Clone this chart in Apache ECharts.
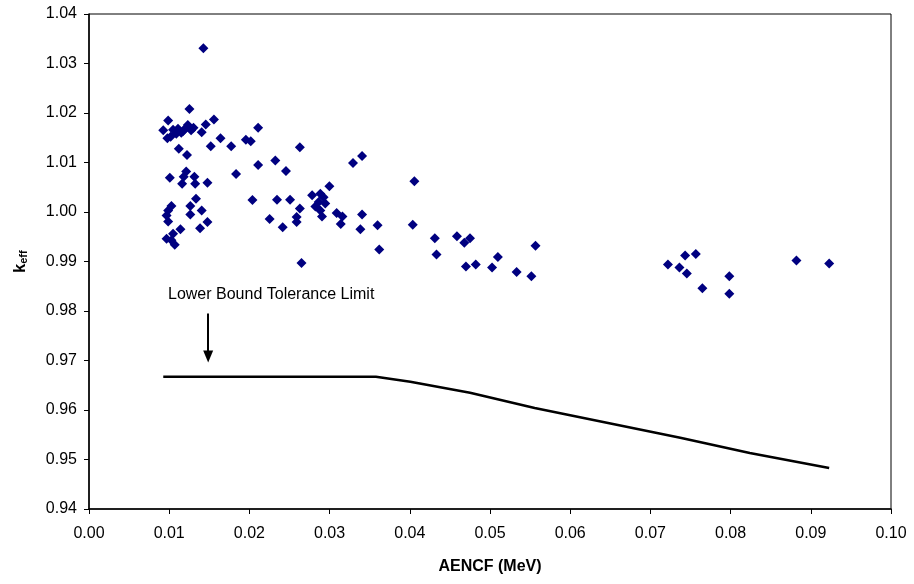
<!DOCTYPE html>
<html>
<head>
<meta charset="utf-8">
<script src="https://cdn.jsdelivr.net/npm/echarts@6/dist/echarts.min.js"></script>
<style>
  html, body { margin: 0; padding: 0; background: #fff; }
  #chart { width: 914px; height: 584px; }
</style>
</head>
<body>
<div id="chart"></div>
<script>
// measured points (AENCF, keff)
var aencf = [
    0.01426, 0.01252, 0.00987, 0.00926, 0.01048, 0.01110, 0.01171, 0.01212, 0.01150, 0.01232,
    0.01273, 0.01089, 0.01303, 0.01456, 0.01558, 0.01405, 0.00977, 0.01018, 0.01640, 0.01518,
    0.01773, 0.01956, 0.02017, 0.02109, 0.01120, 0.01222, 0.02109, 0.01834, 0.01008, 0.01212,
    0.01181, 0.01161, 0.01314, 0.01324, 0.01477, 0.01334, 0.02038, 0.01263, 0.01028, 0.00987,
    0.00967, 0.00987, 0.01405, 0.01263, 0.01477, 0.01385, 0.01140, 0.01048, 0.00967, 0.01028,
    0.01069, 0.02252, 0.02629, 0.03405, 0.03292, 0.02323, 0.02456, 0.02344, 0.02507, 0.02782,
    0.02997, 0.02884, 0.02925, 0.02864, 0.02946, 0.02823, 0.02884, 0.02629, 0.02905, 0.02589,
    0.02589, 0.02415, 0.03088, 0.03160, 0.03139, 0.03405, 0.03384, 0.03598, 0.03619, 0.02650,
    0.04057, 0.04037, 0.04312, 0.04333, 0.04588, 0.04751, 0.04680, 0.04700, 0.04822, 0.05098,
    0.05026, 0.05332, 0.05516, 0.05567, 0.07219, 0.07362, 0.07433, 0.07566, 0.07454, 0.07648,
    0.07984, 0.07984, 0.08821, 0.09229
];
var keff = [
    1.0331, 1.0208, 1.0185, 1.0165, 1.0166, 1.0168, 1.0163, 1.0170, 1.0160, 1.0176,
    1.0165, 1.0158, 1.0170, 1.0177, 1.0187, 1.0161, 1.0149, 1.0152, 1.0149, 1.0133,
    1.0133, 1.0146, 1.0143, 1.0170, 1.0128, 1.0115, 1.0095, 1.0077, 1.0069, 1.0082,
    1.0071, 1.0057, 1.0071, 1.0057, 1.0059, 1.0027, 1.0024, 1.0012, 1.0012, 1.0003,
    0.9993, 0.9981, 1.0003, 0.9995, 0.9980, 0.9967, 0.9965, 0.9956, 0.9946, 0.9943,
    0.9934, 0.9986, 1.0131, 1.0113, 1.0099, 1.0104, 1.0083, 1.0025, 1.0025, 1.0034,
    1.0052, 1.0037, 1.0030, 1.0020, 1.0017, 1.0011, 1.0003, 1.0007, 0.9991, 0.9990,
    0.9980, 0.9969, 0.9998, 0.9991, 0.9976, 0.9995, 0.9965, 0.9973, 0.9924, 0.9897,
    1.0062, 0.9974, 0.9947, 0.9914, 0.9951, 0.9947, 0.9938, 0.9890, 0.9894, 0.9909,
    0.9888, 0.9879, 0.9870, 0.9932, 0.9894, 0.9888, 0.9912, 0.9915, 0.9876, 0.9846,
    0.9870, 0.9835, 0.9902, 0.9896
];

// lower bound tolerance limit
var limitX = [0.00926, 0.03578, 0.04006, 0.04751, 0.05557, 0.07372, 0.08239, 0.09229];
var limitY = [0.9667, 0.9667, 0.9657, 0.9635, 0.9604, 0.9544, 0.9513, 0.9483];

// annotation arrow (from, to)
var arrowX = 0.01486;
var arrowY = [0.9795, 0.9708];

var points = aencf.map(function (x, i) { return [x, keff[i]]; });
var limit = limitX.map(function (x, i) { return [x, limitY[i]]; });

var font = 'Liberation Sans, Arial, sans-serif';
var chart = echarts.init(document.getElementById('chart'));

chart.setOption({
    animation: false,
    backgroundColor: '#fff',
    grid: {
        left: 89, right: 23, top: 14, bottom: 75,
        outerBoundsMode: 'none',
        containLabel: false,
        show: true, borderColor: '#000', borderWidth: 1
    },
    xAxis: {
        type: 'value',
        min: 0, max: 0.1, interval: 0.01,
        name: 'AENCF (MeV)',
        nameLocation: 'middle',
        nameGap: 50,
        nameTextStyle: { fontFamily: font, fontSize: 16, fontWeight: 'bold', color: '#000' },
        axisLine: { lineStyle: { color: '#000', width: 1.5 } },
        axisTick: { show: true, length: 5, lineStyle: { color: '#000' } },
        axisLabel: {
            fontFamily: font, fontSize: 16, color: '#000', margin: 17,
            formatter: function (v) { return v.toFixed(2); }
        },
        splitLine: { show: false }
    },
    yAxis: {
        type: 'value',
        min: 0.94, max: 1.04, interval: 0.01,
        name: '{k|k}{s|eff}',
        nameLocation: 'middle',
        nameGap: 60,
        nameRotate: 90,
        nameTextStyle: {
            rich: {
                k: { fontFamily: font, fontSize: 16, fontWeight: 'bold', color: '#000' },
                s: { fontFamily: font, fontSize: 11, fontWeight: 'bold', color: '#000', padding: [6, 0, 0, 0] }
            }
        },
        axisLine: { lineStyle: { color: '#000', width: 1.5 } },
        axisTick: { show: true, length: 5, lineStyle: { color: '#000' } },
        axisLabel: {
            fontFamily: font, fontSize: 16, color: '#000', margin: 12,
            formatter: function (v) { return v.toFixed(2); }
        },
        splitLine: { show: false }
    },
    series: [
        {
            type: 'scatter',
            data: points,
            symbol: 'diamond',
            symbolSize: 10,
            itemStyle: { color: '#000080', opacity: 1 },
            z: 3
        },
        {
            type: 'line',
            data: limit,
            showSymbol: false,
            symbol: 'none',
            lineStyle: { color: '#000', width: 2.5 },
            markLine: {
                silent: true,
                symbol: ['none', 'triangle'],
                symbolSize: [10, 12],
                label: { show: false },
                lineStyle: { color: '#000', width: 2, type: 'solid' },
                data: [[
                    { coord: [arrowX, arrowY[0]] },
                    { coord: [arrowX, arrowY[1]] }
                ]]
            }
        }
    ],
    graphic: [
        {
            type: 'text',
            left: 168,
            top: 287,
            style: {
                text: 'Lower Bound Tolerance Limit',
                font: '16px ' + font,
                fill: '#000'
            }
        }
    ]
});
</script>
</body>
</html>
